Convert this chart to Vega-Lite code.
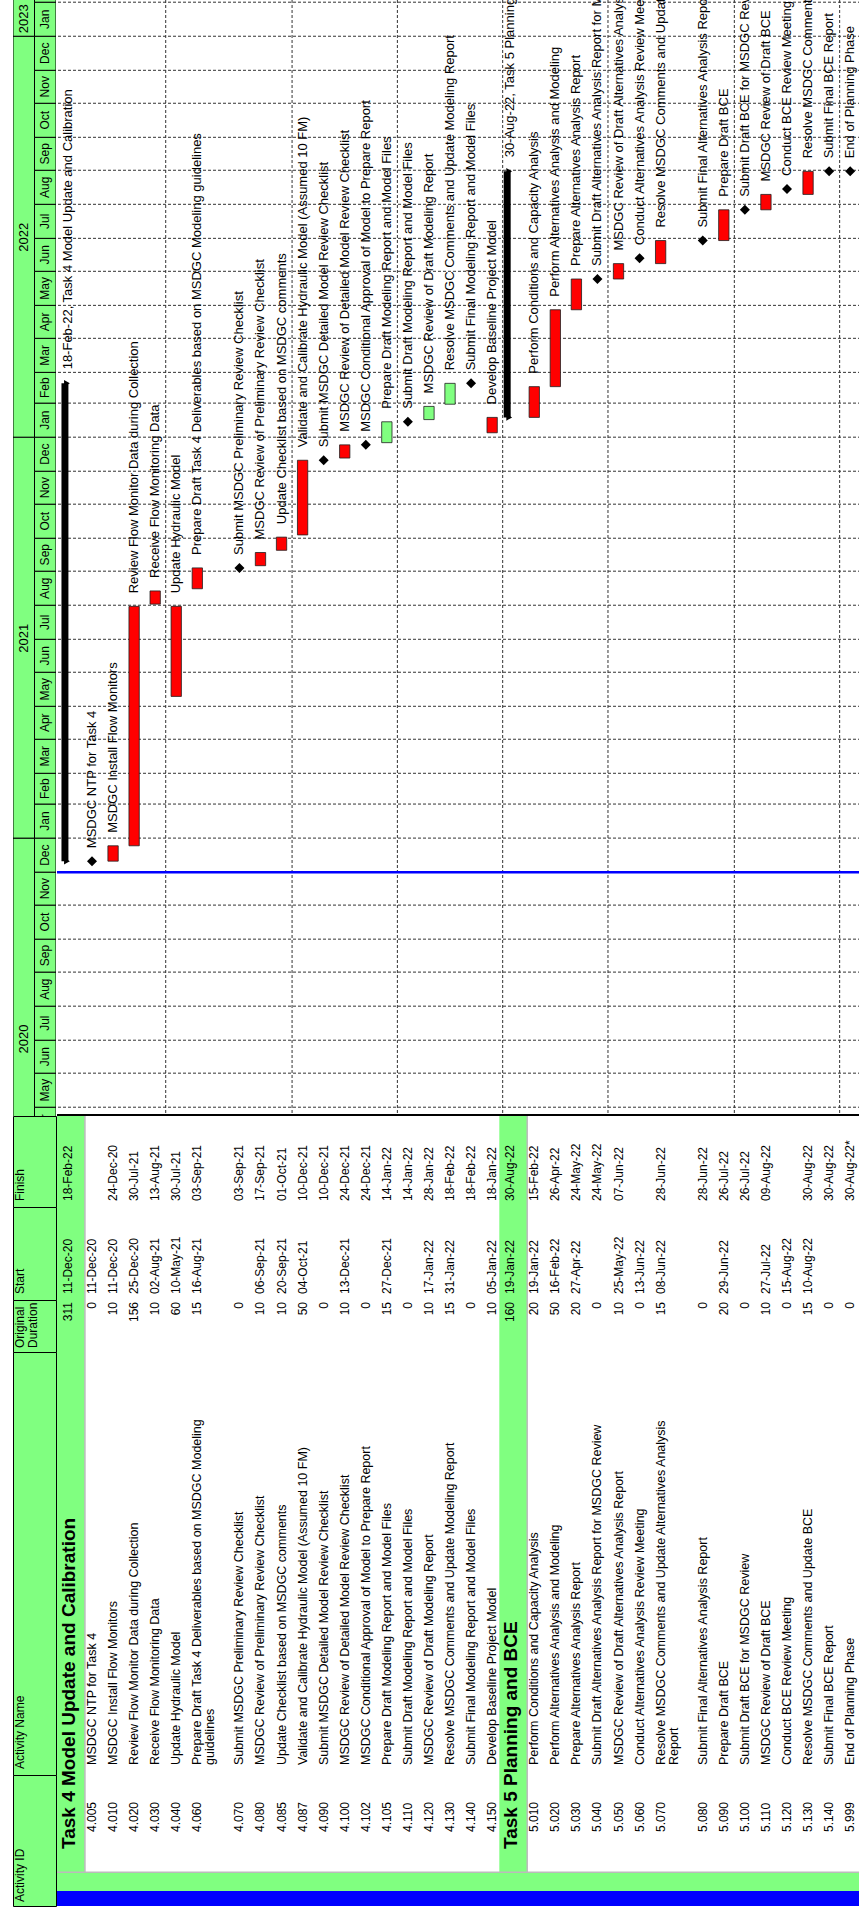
{
  "$schema": "https://vega.github.io/schema/vega-lite/v6.json",
  "padding": {"left": 12, "top": 0, "right": 0, "bottom": 5},
  "autosize": {"type": "pad"},
  "config": {
    "view": {"stroke": null},
    "font": "Liberation Sans",
    "text": {"fontSize": 12, "color": "#000000"},
    "concat": {"spacing": 0}
  },
  "datasets": {
    "acts": [
      {"row":"T4","id":"","name":"Task 4 Model Update and Calibration","dur":311,"start":"11-Dec-20","finish":"18-Feb-22","kind":"summary","crit":"Critical","s":"2020-12-11","f":"2022-02-18T23:59:59Z","label":"18-Feb-22, Task 4 Model Update and Calibration"},
      {"row":"4.005","id":"4.005","name":"MSDGC NTP for Task 4","dur":0,"start":"11-Dec-20","finish":"","kind":"milestone","crit":"Critical","s":"2020-12-11","f":"2020-12-11"},
      {"row":"4.010","id":"4.010","name":"MSDGC Install Flow Monitors","dur":10,"start":"11-Dec-20","finish":"24-Dec-20","kind":"task","crit":"Critical","s":"2020-12-11","f":"2020-12-24T23:59:59Z"},
      {"row":"4.020","id":"4.020","name":"Review Flow Monitor Data during Collection","dur":156,"start":"25-Dec-20","finish":"30-Jul-21","kind":"task","crit":"Critical","s":"2020-12-25","f":"2021-07-30T23:59:59Z"},
      {"row":"4.030","id":"4.030","name":"Receive Flow Monitoring Data","dur":10,"start":"02-Aug-21","finish":"13-Aug-21","kind":"task","crit":"Critical","s":"2021-08-02","f":"2021-08-13T23:59:59Z"},
      {"row":"4.040","id":"4.040","name":"Update Hydraulic Model","dur":60,"start":"10-May-21","finish":"30-Jul-21","kind":"task","crit":"Critical","s":"2021-05-10","f":"2021-07-30T23:59:59Z"},
      {"row":"4.060","id":"4.060","name":"Prepare Draft Task 4 Deliverables based on MSDGC Modeling guidelines","wrap":["Prepare Draft Task 4 Deliverables based on MSDGC Modeling","guidelines"],"dur":15,"start":"16-Aug-21","finish":"03-Sep-21","kind":"task","crit":"Critical","s":"2021-08-16","f":"2021-09-03T23:59:59Z"},
      {"row":"4.070","id":"4.070","name":"Submit MSDGC Preliminary Review Checklist","dur":0,"start":"","finish":"03-Sep-21","kind":"milestone","crit":"Critical","s":"2021-09-03T23:59:59Z","f":"2021-09-03T23:59:59Z"},
      {"row":"4.080","id":"4.080","name":"MSDGC Review of Preliminary Review Checklist","dur":10,"start":"06-Sep-21","finish":"17-Sep-21","kind":"task","crit":"Critical","s":"2021-09-06","f":"2021-09-17T23:59:59Z"},
      {"row":"4.085","id":"4.085","name":"Update Checklist based on MSDGC comments","dur":10,"start":"20-Sep-21","finish":"01-Oct-21","kind":"task","crit":"Critical","s":"2021-09-20","f":"2021-10-01T23:59:59Z"},
      {"row":"4.087","id":"4.087","name":"Validate and Calibrate Hydraulic Model (Assumed 10 FM)","dur":50,"start":"04-Oct-21","finish":"10-Dec-21","kind":"task","crit":"Critical","s":"2021-10-04","f":"2021-12-10T23:59:59Z"},
      {"row":"4.090","id":"4.090","name":"Submit MSDGC Detailed Model Review Checklist","dur":0,"start":"","finish":"10-Dec-21","kind":"milestone","crit":"Critical","s":"2021-12-10T23:59:59Z","f":"2021-12-10T23:59:59Z"},
      {"row":"4.100","id":"4.100","name":"MSDGC Review of Detailed Model Review Checklist","dur":10,"start":"13-Dec-21","finish":"24-Dec-21","kind":"task","crit":"Critical","s":"2021-12-13","f":"2021-12-24T23:59:59Z"},
      {"row":"4.102","id":"4.102","name":"MSDGC Conditional Approval of Model to Prepare Report","dur":0,"start":"","finish":"24-Dec-21","kind":"milestone","crit":"Critical","s":"2021-12-24T23:59:59Z","f":"2021-12-24T23:59:59Z"},
      {"row":"4.105","id":"4.105","name":"Prepare Draft Modeling Report and Model Files","dur":15,"start":"27-Dec-21","finish":"14-Jan-22","kind":"task","crit":"Non-critical","s":"2021-12-27","f":"2022-01-14T23:59:59Z"},
      {"row":"4.110","id":"4.110","name":"Submit Draft Modeling Report and Model Files","dur":0,"start":"","finish":"14-Jan-22","kind":"milestone","crit":"Non-critical","s":"2022-01-14T23:59:59Z","f":"2022-01-14T23:59:59Z"},
      {"row":"4.120","id":"4.120","name":"MSDGC Review of Draft Modeling Report","dur":10,"start":"17-Jan-22","finish":"28-Jan-22","kind":"task","crit":"Non-critical","s":"2022-01-17","f":"2022-01-28T23:59:59Z"},
      {"row":"4.130","id":"4.130","name":"Resolve MSDGC Comments and Update Modeling Report","dur":15,"start":"31-Jan-22","finish":"18-Feb-22","kind":"task","crit":"Non-critical","s":"2022-01-31","f":"2022-02-18T23:59:59Z"},
      {"row":"4.140","id":"4.140","name":"Submit Final Modeling Report and Model Files","dur":0,"start":"","finish":"18-Feb-22","kind":"milestone","crit":"Non-critical","s":"2022-02-18T23:59:59Z","f":"2022-02-18T23:59:59Z"},
      {"row":"4.150","id":"4.150","name":"Develop Baseline Project Model","dur":10,"start":"05-Jan-22","finish":"18-Jan-22","kind":"task","crit":"Critical","s":"2022-01-05","f":"2022-01-18T23:59:59Z"},
      {"row":"T5","id":"","name":"Task 5 Planning and BCE","dur":160,"start":"19-Jan-22","finish":"30-Aug-22","kind":"summary","crit":"Critical","s":"2022-01-19","f":"2022-08-30T23:59:59Z","label":"30-Aug-22, Task 5 Planning and BCE"},
      {"row":"5.010","id":"5.010","name":"Perform Conditions and Capacity Analysis","dur":20,"start":"19-Jan-22","finish":"15-Feb-22","kind":"task","crit":"Critical","s":"2022-01-19","f":"2022-02-15T23:59:59Z"},
      {"row":"5.020","id":"5.020","name":"Perform Alternatives Analysis and Modeling","dur":50,"start":"16-Feb-22","finish":"26-Apr-22","kind":"task","crit":"Critical","s":"2022-02-16","f":"2022-04-26T23:59:59Z"},
      {"row":"5.030","id":"5.030","name":"Prepare Alternatives Analysis Report","dur":20,"start":"27-Apr-22","finish":"24-May-22","kind":"task","crit":"Critical","s":"2022-04-27","f":"2022-05-24T23:59:59Z"},
      {"row":"5.040","id":"5.040","name":"Submit Draft Alternatives Analysis Report for MSDGC Review","dur":0,"start":"","finish":"24-May-22","kind":"milestone","crit":"Critical","s":"2022-05-24T23:59:59Z","f":"2022-05-24T23:59:59Z"},
      {"row":"5.050","id":"5.050","name":"MSDGC Review of Draft Alternatives Analysis Report","dur":10,"start":"25-May-22","finish":"07-Jun-22","kind":"task","crit":"Critical","s":"2022-05-25","f":"2022-06-07T23:59:59Z"},
      {"row":"5.060","id":"5.060","name":"Conduct Alternatives Analysis Review Meeting","dur":0,"start":"13-Jun-22","finish":"","kind":"milestone","crit":"Critical","s":"2022-06-13","f":"2022-06-13"},
      {"row":"5.070","id":"5.070","name":"Resolve MSDGC Comments and Update Alternatives Analysis Report","wrap":["Resolve MSDGC Comments and Update Alternatives Analysis","Report"],"dur":15,"start":"08-Jun-22","finish":"28-Jun-22","kind":"task","crit":"Critical","s":"2022-06-08","f":"2022-06-28T23:59:59Z"},
      {"row":"5.080","id":"5.080","name":"Submit Final Alternatives Analysis Report","dur":0,"start":"","finish":"28-Jun-22","kind":"milestone","crit":"Critical","s":"2022-06-28T23:59:59Z","f":"2022-06-28T23:59:59Z"},
      {"row":"5.090","id":"5.090","name":"Prepare Draft BCE","dur":20,"start":"29-Jun-22","finish":"26-Jul-22","kind":"task","crit":"Critical","s":"2022-06-29","f":"2022-07-26T23:59:59Z"},
      {"row":"5.100","id":"5.100","name":"Submit Draft BCE for MSDGC Review","dur":0,"start":"","finish":"26-Jul-22","kind":"milestone","crit":"Critical","s":"2022-07-26T23:59:59Z","f":"2022-07-26T23:59:59Z"},
      {"row":"5.110","id":"5.110","name":"MSDGC Review of Draft BCE","dur":10,"start":"27-Jul-22","finish":"09-Aug-22","kind":"task","crit":"Critical","s":"2022-07-27","f":"2022-08-09T23:59:59Z"},
      {"row":"5.120","id":"5.120","name":"Conduct BCE Review Meeting","dur":0,"start":"15-Aug-22","finish":"","kind":"milestone","crit":"Critical","s":"2022-08-15","f":"2022-08-15"},
      {"row":"5.130","id":"5.130","name":"Resolve MSDGC Comments and Update BCE","dur":15,"start":"10-Aug-22","finish":"30-Aug-22","kind":"task","crit":"Critical","s":"2022-08-10","f":"2022-08-30T23:59:59Z"},
      {"row":"5.140","id":"5.140","name":"Submit Final BCE Report","dur":0,"start":"","finish":"30-Aug-22","kind":"milestone","crit":"Critical","s":"2022-08-30T23:59:59Z","f":"2022-08-30T23:59:59Z"},
      {"row":"5.999","id":"5.999","name":"End of Planning Phase","dur":0,"start":"","finish":"30-Aug-22*","kind":"milestone","crit":"Critical","s":"2022-08-30T23:59:59Z","f":"2022-08-30T23:59:59Z"}
    ],
    "years": [
      {"yr":"2020","s":"2020-01-01","e":"2021-01-01","lab":"2020-07-02"},
      {"yr":"2021","s":"2021-01-01","e":"2022-01-01","lab":"2021-07-02"},
      {"yr":"2022","s":"2022-01-01","e":"2023-01-01","lab":"2022-07-02"},
      {"yr":"2023","s":"2023-01-01","e":"2024-01-01","lab":"2023-01-17"}
    ],
    "months": [
      {"m":"Apr","s":"2020-04-01","e":"2020-05-01"},
      {"m":"May","s":"2020-05-01","e":"2020-06-01"},
      {"m":"Jun","s":"2020-06-01","e":"2020-07-01"},
      {"m":"Jul","s":"2020-07-01","e":"2020-08-01"},
      {"m":"Aug","s":"2020-08-01","e":"2020-09-01"},
      {"m":"Sep","s":"2020-09-01","e":"2020-10-01"},
      {"m":"Oct","s":"2020-10-01","e":"2020-11-01"},
      {"m":"Nov","s":"2020-11-01","e":"2020-12-01"},
      {"m":"Dec","s":"2020-12-01","e":"2021-01-01"},
      {"m":"Jan","s":"2021-01-01","e":"2021-02-01"},
      {"m":"Feb","s":"2021-02-01","e":"2021-03-01"},
      {"m":"Mar","s":"2021-03-01","e":"2021-04-01"},
      {"m":"Apr","s":"2021-04-01","e":"2021-05-01"},
      {"m":"May","s":"2021-05-01","e":"2021-06-01"},
      {"m":"Jun","s":"2021-06-01","e":"2021-07-01"},
      {"m":"Jul","s":"2021-07-01","e":"2021-08-01"},
      {"m":"Aug","s":"2021-08-01","e":"2021-09-01"},
      {"m":"Sep","s":"2021-09-01","e":"2021-10-01"},
      {"m":"Oct","s":"2021-10-01","e":"2021-11-01"},
      {"m":"Nov","s":"2021-11-01","e":"2021-12-01"},
      {"m":"Dec","s":"2021-12-01","e":"2022-01-01"},
      {"m":"Jan","s":"2022-01-01","e":"2022-02-01"},
      {"m":"Feb","s":"2022-02-01","e":"2022-03-01"},
      {"m":"Mar","s":"2022-03-01","e":"2022-04-01"},
      {"m":"Apr","s":"2022-04-01","e":"2022-05-01"},
      {"m":"May","s":"2022-05-01","e":"2022-06-01"},
      {"m":"Jun","s":"2022-06-01","e":"2022-07-01"},
      {"m":"Jul","s":"2022-07-01","e":"2022-08-01"},
      {"m":"Aug","s":"2022-08-01","e":"2022-09-01"},
      {"m":"Sep","s":"2022-09-01","e":"2022-10-01"},
      {"m":"Oct","s":"2022-10-01","e":"2022-11-01"},
      {"m":"Nov","s":"2022-11-01","e":"2022-12-01"},
      {"m":"Dec","s":"2022-12-01","e":"2023-01-01"},
      {"m":"Jan","s":"2023-01-01","e":"2023-02-01"},
      {"m":"Feb","s":"2023-02-01","e":"2023-03-01"}
    ]
  },
  "spacing": 0,
  "resolve": {"scale": {"x": "independent", "y": "independent", "color": "independent"}},
  "hconcat": [
    {
      "spacing": 0,
      "bounds": "flush",
      "resolve": {"scale": {"x": "independent", "y": "independent"}},
      "vconcat": [
        {
          "width": 43,
          "height": 1116,
          "layer": [
            {
              "data": {"name": "years"},
              "mark": {"type": "rect", "fill": "#80FF80", "stroke": "#000000", "strokeWidth": 1, "clip": true},
              "encoding": {
                "x": {"datum": "yr", "type": "nominal", "axis": null, "scale": {"type": "band", "domain": ["yr", "mo"], "paddingInner": 0, "paddingOuter": 0}},
                "y": {"field": "s", "type": "temporal", "axis": null, "scale": {"domain": [{"year": 2020, "month": 4, "date": 23, "utc": true}, {"year": 2023, "month": 2, "date": 3, "utc": true}], "nice": false}},
                "y2": {"field": "e"}
              }
            },
            {
              "data": {"name": "months"},
              "mark": {"type": "rect", "fill": "#80FF80", "stroke": "#000000", "strokeWidth": 1, "clip": true},
              "encoding": {
                "x": {"datum": "mo", "type": "nominal", "axis": null},
                "y": {"field": "s", "type": "temporal", "axis": null},
                "y2": {"field": "e"}
              }
            },
            {
              "data": {"name": "years"},
              "mark": {"type": "text", "angle": 270, "align": "center", "baseline": "middle", "fontSize": 13, "clip": true},
              "encoding": {
                "x": {"datum": "yr", "type": "nominal", "axis": null},
                "y": {"field": "lab", "type": "temporal", "axis": null},
                "text": {"field": "yr", "type": "nominal"}
              }
            },
            {
              "data": {"name": "months"},
              "transform": [{"field": "s", "lt": {"year": 2023, "month": 2, "date": 1, "utc": true}}],
              "mark": {"type": "text", "angle": 270, "align": "center", "baseline": "middle", "fontSize": 12, "clip": true},
              "encoding": {
                "x": {"datum": "mo", "type": "nominal", "axis": null},
                "y": {"field": "s", "type": "temporal", "timeUnit": "utcyearmonth", "bandPosition": 0.5, "axis": null},
                "text": {"field": "m", "type": "nominal"}
              }
            }
          ]
        },
        {
          "width": 43, "height": 91,
          "view": {"fill": "#80FF80", "stroke": "#000000", "strokeWidth": 1},
          "data": {"values": [{}]},
          "mark": {"type": "text", "angle": 270, "align": "left", "baseline": "top", "dx": 6, "dy": 2, "fontSize": 12},
          "encoding": {
            "x": {"datum": 0, "type": "quantitative", "axis": null, "scale": {"domain": [0, 1]}},
            "y": {"datum": 0, "type": "quantitative", "axis": null, "scale": {"domain": [0, 1]}},
            "text": {"value": "Finish"}
          }
        },
        {
          "width": 43, "height": 93,
          "view": {"fill": "#80FF80", "stroke": "#000000", "strokeWidth": 1},
          "data": {"values": [{}]},
          "mark": {"type": "text", "angle": 270, "align": "left", "baseline": "top", "dx": 6, "dy": 2, "fontSize": 12},
          "encoding": {
            "x": {"datum": 0, "type": "quantitative", "axis": null, "scale": {"domain": [0, 1]}},
            "y": {"datum": 0, "type": "quantitative", "axis": null, "scale": {"domain": [0, 1]}},
            "text": {"value": "Start"}
          }
        },
        {
          "width": 43, "height": 52,
          "view": {"fill": "#80FF80", "stroke": "#000000", "strokeWidth": 1},
          "data": {"values": [{}]},
          "mark": {"type": "text", "angle": 270, "align": "left", "baseline": "top", "dx": 4, "dy": 2, "fontSize": 12, "lineHeight": 13},
          "encoding": {
            "x": {"datum": 0, "type": "quantitative", "axis": null, "scale": {"domain": [0, 1]}},
            "y": {"datum": 0, "type": "quantitative", "axis": null, "scale": {"domain": [0, 1]}},
            "text": {"value": ["Original", "Duration"]}
          }
        },
        {
          "width": 43, "height": 423,
          "view": {"fill": "#80FF80", "stroke": "#000000", "strokeWidth": 1},
          "data": {"values": [{}]},
          "mark": {"type": "text", "angle": 270, "align": "left", "baseline": "top", "dx": 6, "dy": 2, "fontSize": 12},
          "encoding": {
            "x": {"datum": 0, "type": "quantitative", "axis": null, "scale": {"domain": [0, 1]}},
            "y": {"datum": 0, "type": "quantitative", "axis": null, "scale": {"domain": [0, 1]}},
            "text": {"value": "Activity Name"}
          }
        },
        {
          "width": 43, "height": 131,
          "view": {"fill": "#80FF80", "stroke": "#000000", "strokeWidth": 1},
          "data": {"values": [{}]},
          "mark": {"type": "text", "angle": 270, "align": "left", "baseline": "top", "dx": 4, "dy": 2, "fontSize": 12},
          "encoding": {
            "x": {"datum": 0, "type": "quantitative", "axis": null, "scale": {"domain": [0, 1]}},
            "y": {"datum": 0, "type": "quantitative", "axis": null, "scale": {"domain": [0, 1]}},
            "text": {"value": "Activity ID"}
          }
        }
      ]
    },
    {
      "spacing": 0,
      "bounds": "flush",
      "resolve": {"scale": {"x": "independent", "y": "independent", "color": "independent"}},
      "vconcat": [
        {
          "width": 804,
          "height": 1116,
          "layer": [
            {
              "data": {"name": "months"},
              "mark": {"type": "rule", "strokeDash": [3, 2], "color": "#333333", "strokeWidth": 1, "clip": true},
              "encoding": {
                "y": {"field": "s", "type": "temporal", "axis": null, "scale": {"domain": [{"year": 2020, "month": 4, "date": 23, "utc": true}, {"year": 2023, "month": 2, "date": 3, "utc": true}], "nice": false}}
              }
            },
            {
              "data": {"values": [{"row": "4.040"}, {"row": "4.087"}, {"row": "4.110"}, {"row": "T5"}, {"row": "5.050"}, {"row": "5.100"}, {"row": "5.999"}]},
              "mark": {"type": "rule", "strokeDash": [3, 2], "color": "#333333", "strokeWidth": 1, "clip": true},
              "encoding": {
                "x": {"field": "row", "type": "nominal", "bandPosition": 0, "axis": null, "scale": {"type": "band", "domain": ["T4","4.005","4.010","4.020","4.030","4.040","4.060","4.060b","4.070","4.080","4.085","4.087","4.090","4.100","4.102","4.105","4.110","4.120","4.130","4.140","4.150","T5","5.010","5.020","5.030","5.040","5.050","5.060","5.070","5.070b","5.080","5.090","5.100","5.110","5.120","5.130","5.140","5.999"], "paddingInner": 0, "paddingOuter": 0.088, "align": 0.92}}
              }
            },
            {
              "data": {"values": [{"event": "Data Date"}]},
              "mark": {"type": "rule", "color": "#0000FF", "strokeWidth": 2.5, "clip": true},
              "encoding": {
                "y": {"datum": {"year": 2020, "month": 12, "date": 1, "utc": true}, "type": "temporal", "axis": null}
              }
            },
            {
              "data": {"values": [{"event": "Edge"}]},
              "mark": {"type": "rule", "color": "#000000", "strokeWidth": 4, "clip": true},
              "encoding": {
                "y": {"datum": {"year": 2020, "month": 4, "date": 23, "utc": true}, "type": "temporal", "axis": null}
              }
            },
            {
              "data": {"name": "acts"},
              "transform": [{"filter": "datum.kind == 'task'"}],
              "mark": {"type": "bar", "width": {"band": 0.49}, "stroke": "#202020", "strokeWidth": 0.8, "clip": true},
              "encoding": {
                "x": {"field": "row", "type": "nominal", "axis": null},
                "y": {"field": "s", "type": "temporal", "axis": null},
                "y2": {"field": "f"},
                "color": {"field": "crit", "type": "nominal", "scale": {"domain": ["Critical", "Non-critical"], "range": ["#FF0000", "#80FF80"]}, "legend": null}
              }
            },
            {
              "data": {"name": "acts"},
              "transform": [{"filter": "datum.kind == 'summary'"}],
              "mark": {"type": "bar", "width": {"band": 0.33}, "xOffset": -6, "color": "#000000", "clip": true},
              "encoding": {
                "x": {"field": "row", "type": "nominal", "axis": null},
                "y": {"field": "s", "type": "temporal", "axis": null},
                "y2": {"field": "f"}
              }
            },
            {
              "data": {"name": "acts"},
              "transform": [{"filter": "datum.kind == 'summary'"}],
              "mark": {"type": "point", "shape": "triangle-right", "filled": true, "size": 45, "opacity": 1, "xOffset": -4, "color": "#000000", "clip": true},
              "encoding": {
                "x": {"field": "row", "type": "nominal", "axis": null},
                "y": {"field": "s", "type": "temporal", "axis": null}
              }
            },
            {
              "data": {"name": "acts"},
              "transform": [{"filter": "datum.kind == 'summary'"}],
              "mark": {"type": "point", "shape": "triangle-right", "filled": true, "size": 45, "opacity": 1, "xOffset": -4, "color": "#000000", "clip": true},
              "encoding": {
                "x": {"field": "row", "type": "nominal", "axis": null},
                "y": {"field": "f", "type": "temporal", "axis": null}
              }
            },
            {
              "data": {"name": "acts"},
              "transform": [{"filter": "datum.kind == 'milestone'"}],
              "mark": {"type": "point", "shape": "diamond", "filled": true, "size": 100, "opacity": 1, "color": "#000000", "clip": true},
              "encoding": {
                "x": {"field": "row", "type": "nominal", "axis": null},
                "y": {"field": "s", "type": "temporal", "axis": null}
              }
            },
            {
              "data": {"name": "acts"},
              "transform": [{"filter": "datum.kind != 'summary'"}],
              "mark": {"type": "text", "angle": 270, "align": "left", "baseline": "middle", "dx": 13, "fontSize": 13, "clip": true},
              "encoding": {
                "x": {"field": "row", "type": "nominal", "axis": null},
                "y": {"field": "f", "type": "temporal", "axis": null},
                "text": {"field": "name", "type": "nominal"}
              }
            },
            {
              "data": {"name": "acts"},
              "transform": [{"filter": "datum.kind == 'summary'"}],
              "mark": {"type": "text", "angle": 270, "align": "left", "baseline": "middle", "dx": 14, "xOffset": -3, "fontSize": 13, "clip": true},
              "encoding": {
                "x": {"field": "row", "type": "nominal", "axis": null},
                "y": {"field": "f", "type": "temporal", "axis": null},
                "text": {"field": "label", "type": "nominal"}
              }
            }
          ]
        },
        {
          "width": 804, "height": 91,
          "data": {"name": "acts"},
          "layer": [
            {
              "transform": [{"filter": "datum.kind == 'summary'"}],
              "mark": {"type": "bar", "width": {"band": 1.32}, "color": "#80FF80"},
              "encoding": {"x": {"field": "row", "type": "nominal", "axis": null, "scale": {"type": "band", "domain": ["T4","4.005","4.010","4.020","4.030","4.040","4.060","4.060b","4.070","4.080","4.085","4.087","4.090","4.100","4.102","4.105","4.110","4.120","4.130","4.140","4.150","T5","5.010","5.020","5.030","5.040","5.050","5.060","5.070","5.070b","5.080","5.090","5.100","5.110","5.120","5.130","5.140","5.999"], "paddingInner": 0, "paddingOuter": 0.088, "align": 0.92}}}
            },
            {
              "transform": [{"filter": "datum.kind == 'summary'"}],
              "mark": {"type": "rule", "color": "#BBBBBB", "strokeWidth": 1.5, "xOffset": 14},
              "encoding": {"x": {"field": "row", "type": "nominal", "axis": null}}
            },
            {
              "transform": [{"filter": "datum.kind == 'summary'"}],
              "mark": {"type": "text", "angle": 270, "align": "left", "baseline": "middle", "dx": 6, "xOffset": -3, "fontSize": 12},
              "encoding": {
                "x": {"field": "row", "type": "nominal", "axis": null},
                "y": {"datum": 0, "type": "quantitative", "axis": null, "scale": {"domain": [0, 1]}},
                "text": {"field": "finish", "type": "nominal"}
              }
            },
            {
              "transform": [{"filter": "datum.kind != 'summary'"}],
              "mark": {"type": "text", "angle": 270, "align": "left", "baseline": "middle", "dx": 6, "fontSize": 12},
              "encoding": {
                "x": {"field": "row", "type": "nominal", "axis": null},
                "y": {"datum": 0, "type": "quantitative", "axis": null},
                "text": {"field": "finish", "type": "nominal"}
              }
            }
          ]
        },
        {
          "width": 804, "height": 93,
          "data": {"name": "acts"},
          "layer": [
            {
              "transform": [{"filter": "datum.kind == 'summary'"}],
              "mark": {"type": "bar", "width": {"band": 1.32}, "color": "#80FF80"},
              "encoding": {"x": {"field": "row", "type": "nominal", "axis": null, "scale": {"type": "band", "domain": ["T4","4.005","4.010","4.020","4.030","4.040","4.060","4.060b","4.070","4.080","4.085","4.087","4.090","4.100","4.102","4.105","4.110","4.120","4.130","4.140","4.150","T5","5.010","5.020","5.030","5.040","5.050","5.060","5.070","5.070b","5.080","5.090","5.100","5.110","5.120","5.130","5.140","5.999"], "paddingInner": 0, "paddingOuter": 0.088, "align": 0.92}}}
            },
            {
              "transform": [{"filter": "datum.kind == 'summary'"}],
              "mark": {"type": "rule", "color": "#BBBBBB", "strokeWidth": 1.5, "xOffset": 14},
              "encoding": {"x": {"field": "row", "type": "nominal", "axis": null}}
            },
            {
              "transform": [{"filter": "datum.kind == 'summary'"}],
              "mark": {"type": "text", "angle": 270, "align": "left", "baseline": "middle", "dx": 6, "xOffset": -3, "fontSize": 12},
              "encoding": {
                "x": {"field": "row", "type": "nominal", "axis": null},
                "y": {"datum": 0, "type": "quantitative", "axis": null, "scale": {"domain": [0, 1]}},
                "text": {"field": "start", "type": "nominal"}
              }
            },
            {
              "transform": [{"filter": "datum.kind != 'summary'"}],
              "mark": {"type": "text", "angle": 270, "align": "left", "baseline": "middle", "dx": 6, "fontSize": 12},
              "encoding": {
                "x": {"field": "row", "type": "nominal", "axis": null},
                "y": {"datum": 0, "type": "quantitative", "axis": null},
                "text": {"field": "start", "type": "nominal"}
              }
            }
          ]
        },
        {
          "width": 804, "height": 52,
          "data": {"name": "acts"},
          "layer": [
            {
              "transform": [{"filter": "datum.kind == 'summary'"}],
              "mark": {"type": "bar", "width": {"band": 1.32}, "color": "#80FF80"},
              "encoding": {"x": {"field": "row", "type": "nominal", "axis": null, "scale": {"type": "band", "domain": ["T4","4.005","4.010","4.020","4.030","4.040","4.060","4.060b","4.070","4.080","4.085","4.087","4.090","4.100","4.102","4.105","4.110","4.120","4.130","4.140","4.150","T5","5.010","5.020","5.030","5.040","5.050","5.060","5.070","5.070b","5.080","5.090","5.100","5.110","5.120","5.130","5.140","5.999"], "paddingInner": 0, "paddingOuter": 0.088, "align": 0.92}}}
            },
            {
              "transform": [{"filter": "datum.kind == 'summary'"}],
              "mark": {"type": "rule", "color": "#BBBBBB", "strokeWidth": 1.5, "xOffset": 14},
              "encoding": {"x": {"field": "row", "type": "nominal", "axis": null}}
            },
            {
              "transform": [{"filter": "datum.kind == 'summary'"}],
              "mark": {"type": "text", "angle": 270, "align": "right", "baseline": "middle", "dx": -2, "xOffset": -3, "fontSize": 12},
              "encoding": {
                "x": {"field": "row", "type": "nominal", "axis": null},
                "y": {"datum": 1, "type": "quantitative", "axis": null, "scale": {"domain": [0, 1]}},
                "text": {"field": "dur", "type": "nominal"}
              }
            },
            {
              "transform": [{"filter": "datum.kind != 'summary'"}],
              "mark": {"type": "text", "angle": 270, "align": "right", "baseline": "middle", "dx": -2, "fontSize": 12},
              "encoding": {
                "x": {"field": "row", "type": "nominal", "axis": null},
                "y": {"datum": 1, "type": "quantitative", "axis": null},
                "text": {"field": "dur", "type": "nominal"}
              }
            }
          ]
        },
        {
          "width": 804, "height": 521,
          "data": {"name": "acts"},
          "layer": [
            {
              "transform": [{"filter": "datum.kind == 'summary'"}],
              "mark": {"type": "bar", "width": {"band": 1.32}, "color": "#80FF80"},
              "encoding": {"x": {"field": "row", "type": "nominal", "axis": null, "scale": {"type": "band", "domain": ["T4","4.005","4.010","4.020","4.030","4.040","4.060","4.060b","4.070","4.080","4.085","4.087","4.090","4.100","4.102","4.105","4.110","4.120","4.130","4.140","4.150","T5","5.010","5.020","5.030","5.040","5.050","5.060","5.070","5.070b","5.080","5.090","5.100","5.110","5.120","5.130","5.140","5.999"], "paddingInner": 0, "paddingOuter": 0.088, "align": 0.92}}}
            },
            {
              "transform": [{"filter": "datum.kind == 'summary'"}],
              "mark": {"type": "rule", "color": "#BBBBBB", "strokeWidth": 1.5, "xOffset": 14},
              "encoding": {"x": {"field": "row", "type": "nominal", "axis": null}}
            },
            {
              "data": {"values": [{"edge": "bottom"}]},
              "mark": {"type": "rule", "color": "#BBBBBB", "strokeWidth": 3, "clip": true},
              "encoding": {"y": {"datum": 0, "type": "quantitative", "axis": null, "scale": {"domain": [0, 1]}}}
            },
            {
              "transform": [{"filter": "datum.kind != 'summary' && !datum.wrap"}],
              "mark": {"type": "text", "angle": 270, "align": "left", "baseline": "middle", "dx": 108, "fontSize": 12.5},
              "encoding": {
                "x": {"field": "row", "type": "nominal", "axis": null},
                "y": {"datum": 0, "type": "quantitative", "axis": null},
                "text": {"field": "name", "type": "nominal"}
              }
            },
            {
              "transform": [{"filter": "datum.wrap"}],
              "mark": {"type": "text", "angle": 270, "align": "left", "baseline": "top", "dx": 108, "dy": -6, "lineHeight": 13, "fontSize": 12.5},
              "encoding": {
                "x": {"field": "row", "type": "nominal", "axis": null},
                "y": {"datum": 0, "type": "quantitative", "axis": null},
                "text": {"field": "wrap"}
              }
            },
            {
              "transform": [{"filter": "datum.kind != 'summary'"}],
              "mark": {"type": "text", "angle": 270, "align": "left", "baseline": "middle", "dx": 41, "fontSize": 12},
              "encoding": {
                "x": {"field": "row", "type": "nominal", "axis": null},
                "y": {"datum": 0, "type": "quantitative", "axis": null},
                "text": {"field": "id", "type": "nominal"}
              }
            },
            {
              "transform": [{"filter": "datum.kind == 'summary'"}],
              "mark": {"type": "text", "angle": 270, "align": "left", "baseline": "middle", "dx": 24, "xOffset": -2, "fontSize": 19, "fontWeight": "bold"},
              "encoding": {
                "x": {"field": "row", "type": "nominal", "axis": null},
                "y": {"datum": 0, "type": "quantitative", "axis": null},
                "text": {"field": "name", "type": "nominal"}
              }
            }
          ]
        },
        {
          "width": 804, "height": 18,
          "view": {"fill": "#80FF80"},
          "data": {"values": [{}]},
          "mark": {"type": "text"},
          "encoding": {"text": {"value": ""}}
        },
        {
          "width": 804, "height": 15,
          "view": {"fill": "#0000FF"},
          "data": {"values": [{}]},
          "mark": {"type": "text"},
          "encoding": {"text": {"value": ""}}
        }
      ]
    }
  ]
}
